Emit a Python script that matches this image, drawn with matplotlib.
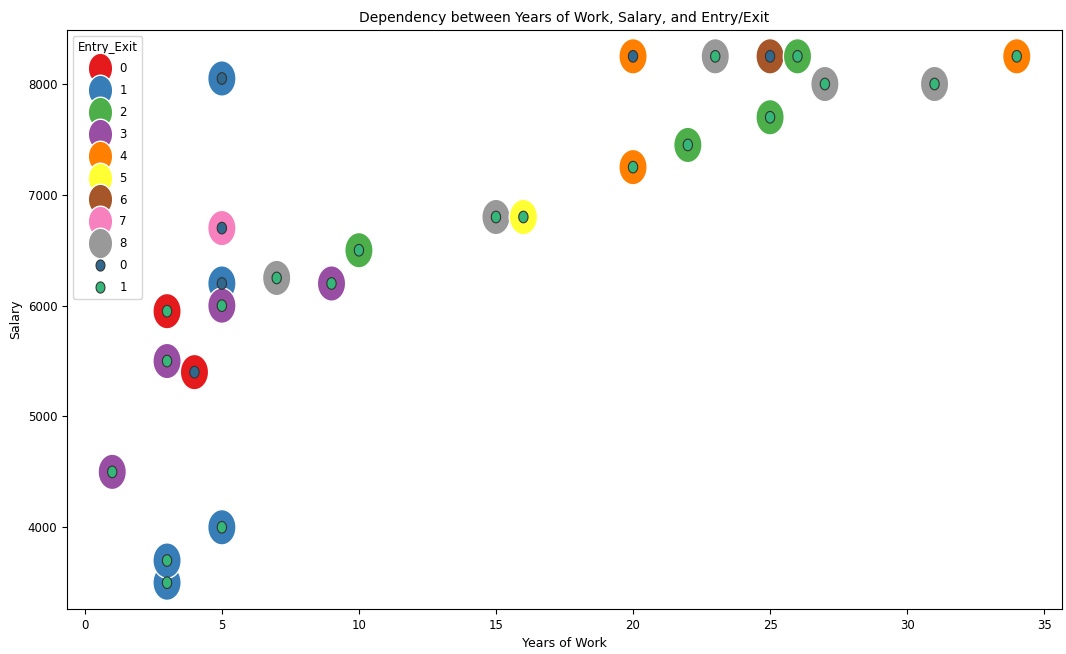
import numpy as np
import matplotlib
matplotlib.use("Agg")
import matplotlib.pyplot as plt
from matplotlib.path import Path
from matplotlib.lines import Line2D

# ── data ──────────────────────────────────────────────────────────────────────
years = [5, 20, 23, 25, 26, 34, 27, 31, 25, 22, 20, 15, 16, 10, 5, 7, 9,
         5, 5, 3, 3, 4, 1, 5, 3, 3]
salary = [8050, 8250, 8250, 8250, 8250, 8250, 8000, 8000, 7700, 7450, 7250,
          6800, 6800, 6500, 6700, 6250, 6200, 6200, 6000, 5950, 5500, 5400,
          4500, 4000, 3500, 3700]
group = [1, 4, 8, 6, 2, 4, 8, 8, 2, 2, 4, 8, 5, 2, 7, 8, 3, 1, 3, 0, 3, 0,
         3, 1, 1, 1]
entry_exit = [0, 0, 1, 0, 1, 1, 1, 1, 1, 1, 1, 1, 1, 1, 0, 1, 1, 0, 1, 1, 1,
              0, 1, 1, 1, 1]

group_labels = ["0", "1", "2", "3", "4", "5", "6", "7", "8"]
ee_labels = ["0", "1"]

# Set1 for the groups, viridis (2 levels) for Entry_Exit
SET1 = ["#e41a1c", "#377eb8", "#4daf4a", "#984ea3", "#ff7f00",
        "#ffff33", "#a65628", "#f781bf", "#999999"]
EE_COL = ["#31688e", "#35b779"]

# slightly tall ellipse marker, the reference image is squeezed sideways
t = np.linspace(0, 2 * np.pi, 60)
verts = np.column_stack([0.8 * np.cos(t), np.sin(t)])
ELL = Path(verts, closed=True)

fig = plt.figure(figsize=(10.66, 6.54), dpi=100)
ax = fig.add_axes([67 / 1066, 1 - 609 / 654, (1062 - 67) / 1066, (609 - 30) / 654])

ax.scatter(years, salary, s=650, marker=ELL, c=[SET1[g] for g in group],
           edgecolors="white", linewidths=1.0, zorder=2)
ax.scatter(years, salary, s=70, marker=ELL, c=[EE_COL[e] for e in entry_exit],
           edgecolors="#333333", linewidths=0.8, zorder=3)

ax.set_title("Dependency between Years of Work, Salary, and Entry/Exit", fontsize=10)
ax.set_xlabel("Years of Work", fontsize=9)
ax.set_ylabel("Salary", fontsize=9)
ax.tick_params(labelsize=8.5)
ax.set_xticks([0, 5, 10, 15, 20, 25, 30, 35])
ax.set_yticks([4000, 5000, 6000, 7000, 8000])

handles = [Line2D([0], [0], marker=ELL, linestyle="", markersize=22,
                  markerfacecolor=c, markeredgecolor="white", label=l)
           for c, l in zip(SET1, group_labels)]
handles += [Line2D([0], [0], marker=ELL, linestyle="", markersize=8,
                   markerfacecolor=c, markeredgecolor="#333333", markeredgewidth=0.8, label=l)
            for c, l in zip(EE_COL, ee_labels)]
ax.legend(handles=handles, title="Entry_Exit", loc="upper left", fontsize=8.5,
          title_fontsize=8.5, labelspacing=0.75, handletextpad=0.6,
          borderpad=0.4, handlelength=2.0)

fig.savefig("out.png", dpi=100)
print("Saved: out.png")
